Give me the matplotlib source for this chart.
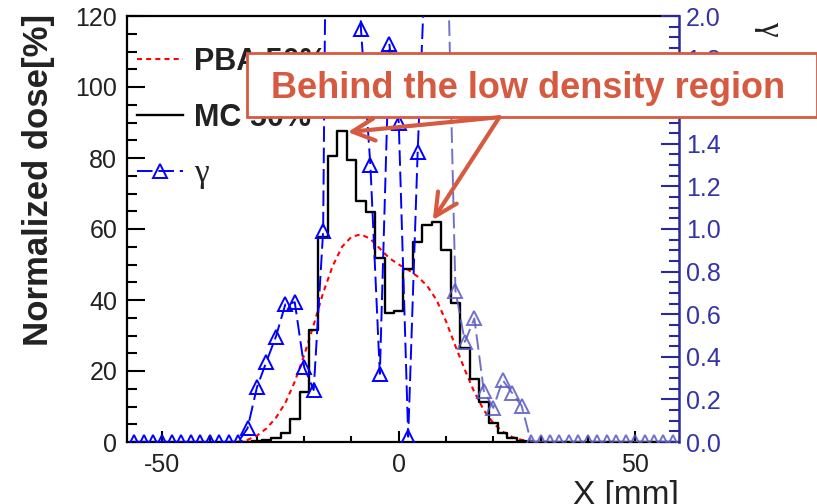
import numpy as np
import matplotlib
matplotlib.use("Agg")
import matplotlib.pyplot as plt
from matplotlib.ticker import MultipleLocator, FormatStrFormatter
from matplotlib.patches import Rectangle, FancyArrowPatch

plt.rcParams['font.family'] = ['Liberation Sans', 'DejaVu Sans']
plt.rcParams['axes.unicode_minus'] = False

# lateral positions [mm], one point every 2 mm
x_mm = np.arange(-56, 60, 2)

# MC 50% dose profile (bin centres = x_mm)
mc_dose = [0, 0, 0, 0, 0, 0, 0, 0, 0, 0, 0, 0,
           0.1, 0.2, 0.5, 1.2, 2.6, 6.4, 14.0, 31.5, 57.8, 80.6,
           87.5, 79.4, 68.0, 64.8, 51.7, 36.2, 37.0, 48.6, 56.2, 61.2,
           62.0, 54.1, 39.1, 26.4, 17.8, 11.3, 5.4, 2.4, 1.0, 0.2,
           0, 0, 0, 0, 0, 0, 0, 0, 0, 0, 0, 0, 0, 0, 0, 0]

# gamma index (right axis); values above 2 leave the frame
gamma = [0, 0, 0, 0, 0, 0, 0, 0, 0, 0, 0, 0,
         0.064, 0.257, 0.377, 0.494, 0.646, 0.656, 0.35, 0.244, 0.99, 6.0,
         6.0, 6.0, 1.94, 1.30, 0.32, 1.87, 1.50, 0.025, 1.36, 2.47,
         4.0, 2.6, 0.71, 0.47, 0.58, 0.24, 0.16, 0.29, 0.23, 0.17,
         0, 0, 0, 0, 0, 0, 0, 0, 0, 0, 0, 0, 0, 0, 0, 0]

# PBA 50% dose profile
pba_x = np.arange(-36, 32, 2)
pba_dose = [0.0, 0.1, 0.6, 1.8, 3.8, 6.8, 11.0, 17.0, 24.5, 33.0,
            42.0, 49.5, 55.0, 57.8, 58.5, 57.2, 54.5, 51.8, 50.0, 48.5,
            46.6, 44.0, 40.0, 34.0, 27.0, 20.3, 14.0, 9.0, 5.3, 2.9,
            1.4, 0.6, 0.2, 0.0]

x_arr = np.array(x_mm)
g_arr = np.array(gamma)

note_color = '#d65a40'
txt_color = '#222222'
navy = '#2a2a9c'

fig = plt.figure(figsize=(8.17, 5.04), dpi=100)
ax = fig.add_axes([127/817, 1 - 442/504, (679 - 127)/817, (442 - 16)/504])

l_pba, = ax.plot(pba_x, pba_dose, color='red', ls=(0, (2.4, 2.0)), lw=1.5,
                 label='PBA 50%')
l_mc, = ax.step(x_mm, mc_dose, where='mid', color='black', lw=1.7,
                label='MC 50%')

ax.set_xlim(-57.5, 59.3)
ax.set_ylim(0, 120)
ax.xaxis.set_major_locator(MultipleLocator(50))
ax.xaxis.set_minor_locator(MultipleLocator(10))
ax.yaxis.set_major_locator(MultipleLocator(20))
ax.yaxis.set_minor_locator(MultipleLocator(5))
ax.tick_params(axis='both', which='both', direction='in', top=False,
               right=False, labelsize=18, labelcolor=txt_color, width=1.5)
ax.tick_params(axis='y', which='major', length=13, pad=7)
ax.tick_params(axis='y', which='minor', length=7)
ax.tick_params(axis='x', which='major', length=8, pad=8)
ax.tick_params(axis='x', which='minor', length=4.5)
for s in ['left', 'top', 'bottom']:
    ax.spines[s].set_linewidth(1.6)
ax.spines['right'].set_visible(False)

ax.set_ylabel('Normalized dose[%]', fontsize=25, fontweight='bold',
              color=txt_color)
ax.yaxis.set_label_coords(-0.131, 0.615)
ax.set_xlabel('X [mm]', fontsize=24, color=txt_color, loc='right',
              labelpad=2)

# gamma on its own axis
ax2 = ax.twinx()
dark = x_arr <= 10
faded = x_arr >= 10
l_g, = ax2.plot(x_arr[dark], g_arr[dark], color='blue', ls=(0, (8, 3)),
                lw=1.4, marker='^', ms=10.5, mfc='none', mew=1.4, label='γ')
ax2.plot(x_arr[faded], g_arr[faded], color='#5858c4', alpha=0.85,
         ls=(0, (8, 3)), lw=1.4, marker='^', ms=10.5, mfc='none', mew=1.4)
ax2.set_ylim(0, 2)
ax2.yaxis.set_major_locator(MultipleLocator(0.2))
ax2.yaxis.set_minor_locator(MultipleLocator(0.05))
ax2.yaxis.set_major_formatter(FormatStrFormatter('%.1f'))
ax2.tick_params(axis='y', which='both', direction='in', labelsize=18,
                labelcolor='#3434a8', color=navy, width=1.5, pad=5)
ax2.tick_params(axis='y', which='major', length=13)
ax2.tick_params(axis='y', which='minor', length=7)
for s in ['left', 'top', 'bottom']:
    ax2.spines[s].set_visible(False)
ax2.spines['right'].set_color(navy)
ax2.spines['right'].set_linewidth(1.8)
ax2.set_ylabel('γ', fontsize=24, family='Liberation Serif', rotation=270,
               ha='center', va='center', color=txt_color)
ax2.yaxis.set_label_coords(1.163, 0.972)

leg = ax2.legend([l_pba, l_mc, l_g], ['PBA 50%', 'MC 50%', 'γ'],
                 loc='upper left', bbox_to_anchor=(0.018, 0.928),
                 frameon=False, borderpad=0, borderaxespad=0,
                 handlelength=1.5, handletextpad=0.36, labelspacing=0.85,
                 prop={'size': 22, 'weight': 'bold'})
for t in leg.get_texts():
    t.set_color(txt_color)
leg.get_texts()[2].set_fontfamily('Liberation Serif')
leg.get_texts()[2].set_fontweight('normal')
leg.get_texts()[2].set_fontsize(24)

# annotation box and arrows
fig.add_artist(Rectangle((247/817, 1 - 117/504), (817 - 247)/817, 64/504,
                         transform=fig.transFigure, fc='white',
                         ec=note_color, lw=2, zorder=9))
fig.text(528/817, 1 - 88/504, 'Behind the low density region',
         fontsize=26, fontweight='bold', color=note_color,
         ha='center', va='center', zorder=10)
arrow_from = (21.3, 91.5)
for target in [(-10.8, 87.3), (7.2, 62.5)]:
    arr = FancyArrowPatch(arrow_from, target, transform=ax.transData,
                          arrowstyle='->,head_length=0.8,head_width=0.4',
                          mutation_scale=20, color=note_color, lw=3,
                          shrinkA=0, shrinkB=0, zorder=11)
    fig.add_artist(arr)

fig.savefig('out.png', dpi=100)
